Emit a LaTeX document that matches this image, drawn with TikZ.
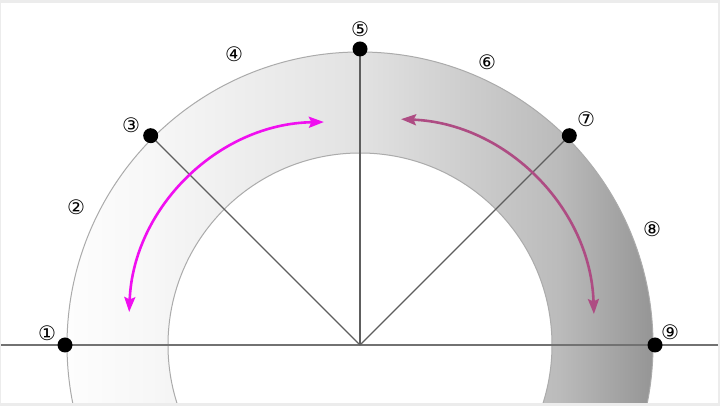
\documentclass[tikz,border=0pt]{standalone}
\usepackage{fontspec}
\newfontfamily\circfont{DejaVu Sans}
\usetikzlibrary{arrows.meta,calc}
\definecolor{framegray}{HTML}{ECECEC}
\definecolor{ringline}{HTML}{ABABAB}
\definecolor{axisgray}{HTML}{727272}
\definecolor{spokegray}{HTML}{5E5E5E}
\definecolor{magentaarrow}{HTML}{F00FF0}
\definecolor{purplearrow}{HTML}{AE4C83}
\definecolor{sA}{HTML}{FDFDFD}
\definecolor{sB}{HTML}{F7F7F7}
\definecolor{sC}{HTML}{E2E2E2}
\definecolor{sD}{HTML}{BBBBBB}
\definecolor{sE}{HTML}{959595}
\pgfdeclarehorizontalshading{ringshade}{100bp}{color(0bp)=(sA); color(25bp)=(sA); color(32bp)=(sB); color(50bp)=(sC); color(67bp)=(sD); color(75bp)=(sE); color(100bp)=(sE)}
\tikzset{
  numlabel/.style={font=\circfont\fontsize{20}{20}\selectfont, inner sep=0pt},
  pointdot/.style={circle, fill=black, minimum size=15pt, inner sep=0pt},
  spoke/.style={draw=spokegray, line width=1.4pt},
  axisline/.style={draw=axisgray, line width=1.8pt},
  bothtips/.style={{Stealth[length=15pt,width=11pt,inset=2.5pt]}-{Stealth[length=15pt,width=11pt,inset=2.5pt]}, line width=2.6pt}
}
\begin{document}
\begin{tikzpicture}[x=1pt,y=1pt]
\useasboundingbox (0,0) rectangle (720,406);
% frame
\fill[framegray] (0,0) rectangle (720,406);
\fill[white] (1,3) rectangle (718,403);
\begin{scope}
\clip (1,3) rectangle (718,403);
\coordinate (O) at (360,61);
% ring
\shade[shading=ringshade, even odd rule] (O) circle (293) (O) circle (192);
\draw[ringline, line width=1pt] (O) circle (293);
\draw[ringline, line width=1pt] (O) circle (192);
% axis
\coordinate (axL) at (1,61);
\coordinate (axR) at (718,61);
\draw[axisline] (axL) -- (axR);
\end{scope}
% points (coordinates first, dots drawn last)
\coordinate (c1) at ($(O)+(180:295)$);
\coordinate (c3) at ($(O)+(135:296)$);
\coordinate (c5) at ($(O)+(90:296)$);
\coordinate (c7) at ($(O)+(45:296)$);
\coordinate (c9) at ($(O)+(0:295)$);
% spokes
\draw[spoke] (O) -- (c3);
\draw[spoke] (O) -- (c5);
\draw[spoke] (O) -- (c7);
% arrows
\coordinate (mStart) at ($(327,86)+(177.7:198)$);
\draw[bothtips, magentaarrow] (mStart) arc[start angle=177.7, end angle=90.9, radius=198];
\coordinate (pStart) at ($(393,86)+(87.7:201)$);
\draw[bothtips, purplearrow] (pStart) arc[start angle=87.7, end angle=1.7, radius=201];
% dots
\node[pointdot] (p1) at (c1) {};
\node[pointdot] (p3) at (c3) {};
\node[pointdot] (p5) at (c5) {};
\node[pointdot] (p7) at (c7) {};
\node[pointdot] (p9) at (c9) {};
% labels
\node[numlabel] (l1) at (47,73) {①};
\node[numlabel] (l2) at (76,199) {②};
\node[numlabel] (l3) at (131,281) {③};
\node[numlabel] (l4) at (234,352) {④};
\node[numlabel] (l5) at (360,377) {⑤};
\node[numlabel] (l6) at (487,344) {⑥};
\node[numlabel] (l7) at (586,287) {⑦};
\node[numlabel] (l8) at (652,177) {⑧};
\node[numlabel] (l9) at (670,74) {⑨};
\end{tikzpicture}
\end{document}
